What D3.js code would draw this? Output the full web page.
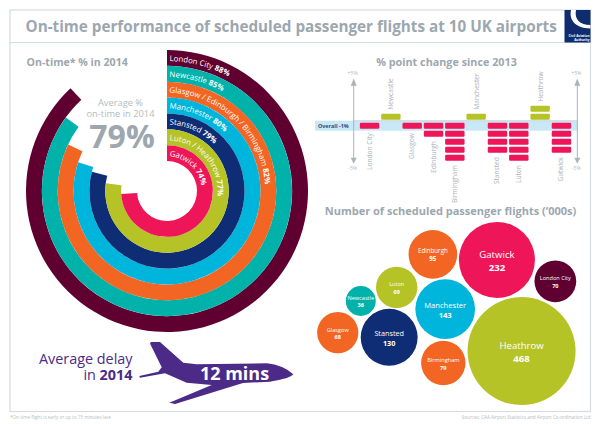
<!DOCTYPE html>
<html>
<head>
<meta charset="utf-8">
<script src="https://cdnjs.cloudflare.com/ajax/libs/d3/7.8.5/d3.min.js"></script>
<style>
html, body { margin: 0; padding: 0; background: #fff; }
svg { display: block; }
text { font-family: "Open Sans", "Noto Sans", sans-serif; }
</style>
</head>
<body>
<svg id="chart" width="600" height="424"></svg>
<script>
// on-time rings
const ringLabels = ['London City', 'Newcastle', 'Glasgow / Edinburgh / Birmingham', 'Manchester', 'Stansted', 'Luton / Heathrow', 'Gatwick'];
const ringValues = [88, 85, 82, 80, 79, 77, 74];
const averageOnTime = 79;

// % point change since 2013
const changeAirports = ['London City', 'Newcastle', 'Glasgow', 'Edinburgh', 'Birmingham', 'Manchester', 'Stansted', 'Luton', 'Heathrow', 'Gatwick'];
const changeValues = [-1, 1, -1, -2, -5, 1, -4, -5, 2, -4];

// flights, thousands
const flightAirports = ['Heathrow', 'Gatwick', 'Manchester', 'Stansted', 'Edinburgh', 'Birmingham', 'London City', 'Luton', 'Glasgow', 'Newcastle'];
const flightValues = [468, 232, 143, 130, 95, 79, 70, 69, 68, 36];
const flightColours = ['#b5c327', '#ee1558', '#00b5dc', '#0f2d74', '#f26522', '#f26522', '#5f0030', '#b5c327', '#f26522', '#00b2a9'];

const averageDelay = '12 mins';

const GREY = '#9ca7af';
const FRAME = '#d5dde1';
const PURPLE = '#4b2a88';
const ringColours = ['#5f0030', '#00b2a9', '#f26522', '#00b5dc', '#0f2d74', '#b5c327', '#ee1558'];

const svg = d3.select('#chart');

function addText(g, x, y, str, size, fill, weight, anchor) {
    return g.append('text')
        .attr('x', x).attr('y', y)
        .attr('font-size', size)
        .attr('font-weight', weight || 400)
        .attr('text-anchor', anchor || 'start')
        .attr('fill', fill)
        .text(str);
}

// frame + header
svg.append('rect').attr('x', 10).attr('y', 10).attr('width', 580.5).attr('height', 401.5)
    .attr('fill', 'none').attr('stroke', FRAME).attr('stroke-width', 1.2);
svg.append('line').attr('x1', 10).attr('x2', 590).attr('y1', 42.5).attr('y2', 42.5)
    .attr('stroke', FRAME).attr('stroke-width', 1.2);
addText(svg, 25.5, 32, 'On-time performance of scheduled passenger flights at 10 UK airports', 15.25, GREY, 700);

// logo
const logo = svg.append('g');
logo.append('rect').attr('x', 564.5).attr('y', 10).attr('width', 26).attr('height', 32.5).attr('fill', '#0f2d6e');
logo.append('path').attr('fill', '#fff')
    .attr('d', 'M571,10 C569,19 574,28 590.5,28.5 L590.5,25 C580,25 574,19 576,10 Z');
addText(logo, 589.5, 36.5, 'Civil Aviation', 3.2, '#fff', 700, 'end');
addText(logo, 589.5, 40.5, 'Authority', 3.2, '#fff', 700, 'end');

// rings
const ringCx = 167, ringCy = 191;
const rings = svg.append('g').attr('transform', `translate(${ringCx},${ringCy})`);
const ringBand = d3.scaleBand().domain(d3.range(ringValues.length)).range([141, 30]);
const ringAngle = d3.scaleLinear().domain([0, 100]).range([0, 2 * Math.PI]);
const ringArc = d3.arc();

addText(svg, 26.5, 66, 'On-time* % in 2014', 10.6, GREY, 700);

ringValues.forEach((v, i) => {
    // reversed band scale still hands back the low edge of each band
    const inner = ringBand(i);
    const outer = inner + ringBand.bandwidth();
    rings.append('path')
        .attr('fill', ringColours[i])
        .attr('d', ringArc({ innerRadius: inner, outerRadius: outer, startAngle: 0, endAngle: ringAngle(v) }));

    // label runs clockwise along the ring from the top
    const textR = inner + 4.8;
    rings.append('path').attr('id', 'ring-path-' + i).attr('fill', 'none')
        .attr('d', `M0,${-textR} A${textR},${textR} 0 0 1 ${textR},0 A${textR},${textR} 0 0 1 0,${textR}`);
    const label = rings.append('text').attr('font-size', 7.8).attr('fill', '#fff');
    const path = label.append('textPath').attr('href', '#ring-path-' + i).attr('startOffset', 2.5);
    path.append('tspan').text(ringLabels[i] + ' ');
    path.append('tspan').attr('font-weight', 700).text(v + '%');
});

addText(svg, 120.5, 105.5, 'Average %', 9.3, '#b4bcc2', 400, 'middle');
addText(svg, 120.5, 116.5, 'on-time in 2014', 9.3, '#b4bcc2', 400, 'middle');
addText(svg, 122, 148, averageOnTime + '%', 32, GREY, 700, 'middle');

// change chart
addText(svg, 446.5, 66, '% point change since 2013', 10.8, GREY, 700, 'middle');
const changeG = svg.append('g');
const changeX = d3.scaleBand().domain(changeAirports).range([359, 572]).paddingInner(0.09).paddingOuter(0.04);
const changeY = d3.scaleLinear().domain([-5, 5]).range([160.7, 80.7]);
const unit = changeY(0) - changeY(1);

changeG.append('rect').attr('x', 315).attr('width', 262.5)
    .attr('y', changeY(0)).attr('height', 1.25 * unit).attr('fill', '#c9e8f5');
changeG.append('line').attr('x1', 353).attr('x2', 577.5)
    .attr('y1', changeY(0)).attr('y2', changeY(0)).attr('stroke', '#b9c4cb').attr('stroke-width', 0.6);
addText(changeG, 318, 128, 'Overall -1%', 5.4, '#2b4a86', 700);

[353.7, 577.3].forEach(x => {
    changeG.append('line').attr('x1', x).attr('x2', x)
        .attr('y1', changeY(5) - 1).attr('y2', changeY(-5) + 1)
        .attr('stroke', '#a9b4bb').attr('stroke-width', 1);
    changeG.append('path').attr('fill', '#a9b4bb')
        .attr('d', d3.line()([[x - 3, changeY(5) + 5], [x + 3, changeY(5) + 5], [x, changeY(5) - 2]]));
    changeG.append('path').attr('fill', '#a9b4bb')
        .attr('d', d3.line()([[x - 3, changeY(-5) - 3], [x + 3, changeY(-5) - 3], [x, changeY(-5) + 3]]));
    addText(changeG, x - 1, 75, '+5%', 5.2, '#b4bcc2', 400, 'middle');
    addText(changeG, x - 1, 170, '-5%', 5.2, '#b4bcc2', 400, 'middle');
});

changeAirports.forEach((name, i) => {
    const v = changeValues[i];
    const x = changeX(name);
    const w = changeX.bandwidth();
    const units = d3.range(Math.abs(v));
    changeG.selectAll(null).data(units).enter().append('rect')
        .attr('x', x).attr('width', w)
        .attr('y', d => v > 0 ? changeY(d + 1) + 0.3 * unit - 2.4 + 1 : changeY(-d) + 2)
        .attr('height', 0.75 * unit)
        .attr('rx', 1.2)
        .attr('fill', v > 0 ? '#b5c327' : '#ee1558');

    // airport name stands above gains and hangs below losses
    const labelY = v > 0 ? changeY(v) - 3 : changeY(v) + 4.5;
    const cx = x + w / 2 + (v > 0 ? 0.5 : 0);
    changeG.append('text')
        .attr('transform', `translate(${cx + 2},${labelY}) rotate(-90)`)
        .attr('text-anchor', v > 0 ? 'start' : 'end')
        .attr('font-size', 6.6)
        .attr('fill', '#aab4bb')
        .text(name);
});

// bubbles
addText(svg, 450.5, 215, 'Number of scheduled passenger flights (\u2018000s)', 11, GREY, 700, 'middle');
const bubbleR = d3.scaleSqrt().domain([0, 468]).range([0, 54]);
// hand packed layout, in a 0-100 layout space
const layoutX = [78.2, 69, 49.7, 28.8, 45.1, 49, 90.8, 31.6, 9.6, 18.2];
const layoutY = [86.5, 27.7, 59.4, 77.6, 24.1, 94.2, 41.5, 45.4, 74.6, 54.2];
const bubbleX = d3.scaleLinear().domain([0, 100]).range([312, 580]);
const bubbleY = d3.scaleLinear().domain([0, 100]).range([217, 372]);

const bubbles = svg.append('g').selectAll('g').data(flightAirports).enter().append('g')
    .attr('transform', (d, i) => `translate(${bubbleX(layoutX[i])},${bubbleY(layoutY[i])})`);
bubbles.append('circle')
    .attr('r', (d, i) => bubbleR(flightValues[i]))
    .attr('fill', (d, i) => flightColours[i]);
const labelSize = (d, i) => Math.max(5.6, Math.min(9.6, bubbleR(flightValues[i]) * 0.255));
bubbles.append('text').attr('text-anchor', 'middle').attr('fill', '#fff')
    .attr('y', (d, i) => -0.2 * labelSize(d, i))
    .attr('font-size', labelSize)
    .text(d => d);
bubbles.append('text').attr('text-anchor', 'middle').attr('fill', '#fff').attr('font-weight', 700)
    .attr('y', (d, i) => 1.15 * labelSize(d, i))
    .attr('font-size', labelSize)
    .text((d, i) => flightValues[i]);

// average delay + plane
addText(svg, 132.5, 364, 'Average delay', 14.4, PURPLE, 400, 'end');
const delayLine = addText(svg, 132.5, 380, 'in ', 14.4, PURPLE, 400, 'end');
delayLine.append('tspan').attr('font-weight', 700).text('2014');
svg.append('path').attr('fill', PURPLE)
    .attr('d', 'M150,343.5 L151,342 L160,342 L183.3,362.7 L196.7,364.3 L266.7,363.3 Q283,365 293.3,374.3 Q290,378.5 270,381.7 L243,383 L175,404 L169.3,402.7 L211.7,385 L186.7,382.7 L165,373.3 L140,377.7 L139.3,376 L158.3,371.7 L161.7,367.3 Z');
addText(svg, 234.5, 380, averageDelay, 18, '#fff', 700, 'middle');

// footnotes
addText(svg, 10, 418.5, '*On-time flight is early or up to 15 minutes late', 4.6, '#b4bcc2');
addText(svg, 590.5, 418.5, 'Sources: CAA Airport Statistics and Airport Co-ordination Ltd', 4.6, '#b4bcc2', 400, 'end');
</script>
</body>
</html>
